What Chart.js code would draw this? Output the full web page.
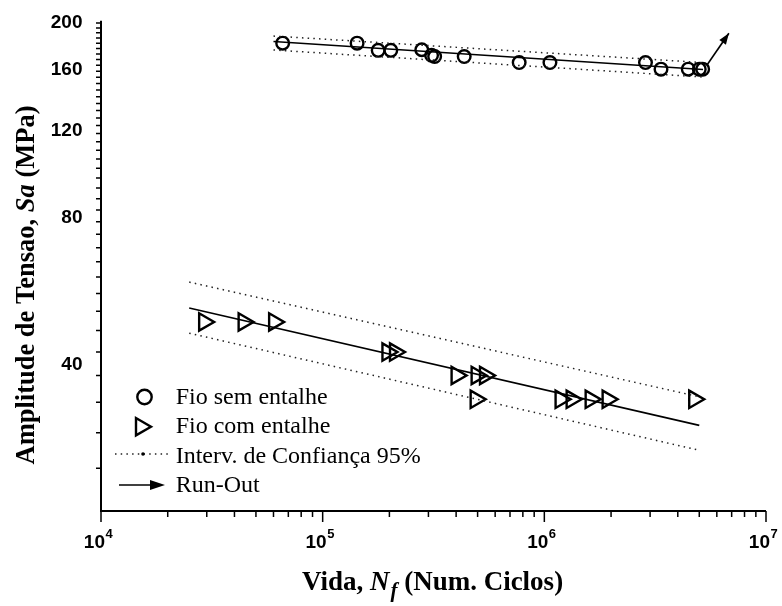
<!DOCTYPE html>
<html>
<head>
<meta charset="utf-8">
<title>Curva S-N</title>
<script src="https://cdn.jsdelivr.net/npm/chart.js@4.4.1/dist/chart.umd.min.js"></script>
<style>
  html, body { margin: 0; padding: 0; background: #fff; }
  #wrap { width: 782px; height: 606px; position: relative; }
</style>
</head>
<body>
<div id="wrap"><canvas id="sn"></canvas></div>
<script>
// fio sem entalhe (circulos)
var semN  = [66000, 143000, 178000, 203000, 280000, 310000, 320000, 435000, 770000, 1060000, 2860000, 3360000, 4460000, 5000000, 5180000];
var semSa = [180, 180, 174, 174, 174.5, 170, 169, 169, 164.3, 164.3, 164.3, 159.3, 159.3, 159.3, 159.3];

// fio com entalhe (triangulos)
var comN  = [29200, 44000, 60400, 196000, 212000, 402000, 495000, 540000, 490000, 1184000, 1328000, 1618000, 1930000, 4745000];
var comSa = [48.6, 48.6, 48.6, 42.2, 42.2, 37.8, 37.8, 37.8, 33.8, 33.8, 33.8, 33.8, 33.8, 33.8];

// retas ajustadas e intervalo de confianca 95%
var ajSemN   = [60000, 5200000];
var ajSemSa  = [181.4, 159];
var supSemSa = [186.1, 164.3];
var infSemSa = [174.3, 153.5];

var ajComN   = [25000, 5000000];
var ajComSa  = [51.9, 29.9];
var supComSa = [58.6, 34.2];
var infComSa = [46.1, 26.6];

// run-out
var runN  = [5400000, 6800000];
var runSa = [162, 188.5];

// eixos
var xMaior = [1e4, 1e5, 1e6, 1e7];
var xExpo  = ['4', '5', '6', '7'];
var yMaior = [40, 80, 120, 160, 200];
var yPasso = 40 / 9;

var legTextos = ['Fio sem entalhe', 'Fio com entalhe', 'Interv. de Confiança 95%', 'Run-Out'];

function pares(xs, ys) {
  return xs.map(function (x, i) { return { x: x, y: ys[i] }; });
}

function linha(xs, ys, pont) {
  return {
    data: pares(xs, ys),
    showLine: true,
    pointRadius: 0,
    borderColor: pont ? '#222' : '#000',
    borderWidth: pont ? 1.5 : 1.6,
    borderDash: pont ? [1.5, 4.2] : [],
    fill: false
  };
}

var SERIF = '"Liberation Serif", "Times New Roman", serif';
var SANS = '"Liberation Sans", Arial, sans-serif';

function seta(ctx, x, y, ang, comp, larg) {
  ctx.save();
  ctx.translate(x, y);
  ctx.rotate(ang);
  ctx.beginPath();
  ctx.moveTo(0, 0);
  ctx.lineTo(-comp, -larg);
  ctx.lineTo(-comp, larg);
  ctx.closePath();
  ctx.fill();
  ctx.restore();
}

function triangulo(ctx, x, y, r) {
  ctx.beginPath();
  ctx.moveTo(x + r, y);
  ctx.lineTo(x - r / 2, y + r * 0.866);
  ctx.lineTo(x - r / 2, y - r * 0.866);
  ctx.closePath();
  ctx.stroke();
}

// ponta da seta do run-out
var pontaSeta = {
  id: 'pontaSeta',
  afterDatasetsDraw: function (chart) {
    var ctx = chart.ctx;
    chart.data.datasets.forEach(function (ds, i) {
      if (!ds.seta) return;
      var pts = chart.getDatasetMeta(i).data;
      var p0 = pts[pts.length - 2], p1 = pts[pts.length - 1];
      ctx.save();
      ctx.fillStyle = '#000';
      seta(ctx, p1.x, p1.y, Math.atan2(p1.y - p0.y, p1.x - p0.x), 11, 4);
      ctx.restore();
    });
  }
};

// eixos, marcas, rotulos, titulos e legenda
var moldura = {
  id: 'moldura',
  afterDraw: function (chart) {
    var ctx = chart.ctx, a = chart.chartArea;
    var sx = chart.scales.x, sy = chart.scales.y;
    ctx.save();
    ctx.strokeStyle = '#000';
    ctx.fillStyle = '#000';

    ctx.lineWidth = 2;
    ctx.beginPath();
    ctx.moveTo(a.left, a.top);
    ctx.lineTo(a.left, a.bottom);
    ctx.lineTo(a.right, a.bottom);
    ctx.stroke();

    // marcas do eixo x
    ctx.lineWidth = 1.5;
    ctx.beginPath();
    xMaior.forEach(function (v, k) {
      var px = sx.getPixelForValue(v);
      ctx.moveTo(px, a.bottom);
      ctx.lineTo(px, a.bottom + 11);
      if (k < xMaior.length - 1) {
        for (var m = 2; m <= 9; m++) {
          var pm = sx.getPixelForValue(v * m);
          ctx.moveTo(pm, a.bottom);
          ctx.lineTo(pm, a.bottom + 6);
        }
      }
    });
    // marcas do eixo y
    for (var k = 1; k <= 40; k++) {
      var v = 20 + k * yPasso;
      if (v > 200.01) break;
      var py = sy.getPixelForValue(v);
      var maior = Math.abs(((v - 40) / 40) - Math.round((v - 40) / 40)) < 1e-6 && v >= 39.9;
      ctx.moveTo(a.left, py);
      ctx.lineTo(a.left - (maior ? 10 : 5), py);
    }
    ctx.stroke();

    // rotulos x: 10^n
    xMaior.forEach(function (v, k) {
      var px = sx.getPixelForValue(v);
      ctx.font = 'bold 19px ' + SANS;
      ctx.textAlign = 'right';
      ctx.textBaseline = 'alphabetic';
      ctx.fillText('10', px + 4, a.bottom + 37);
      ctx.font = 'bold 13px ' + SANS;
      ctx.textAlign = 'left';
      ctx.fillText(xExpo[k], px + 4.5, a.bottom + 27);
    });

    // rotulos y
    ctx.font = 'bold 19px ' + SANS;
    ctx.textAlign = 'right';
    yMaior.forEach(function (v) {
      ctx.fillText(String(v), 82.5, sy.getPixelForValue(v) + 7);
    });

    // titulo do eixo y
    var partesY = [
      ['bold 26.5px ' + SERIF, 'Amplitude de Tensao, '],
      ['italic bold 26.5px ' + SERIF, 'Sa'],
      ['bold 26.5px ' + SERIF, ' (MPa)']
    ];
    var totY = 0;
    partesY.forEach(function (p) { ctx.font = p[0]; totY += ctx.measureText(p[1]).width; });
    ctx.save();
    ctx.translate(34, 285);
    ctx.rotate(-Math.PI / 2);
    ctx.textAlign = 'left';
    var cx = -totY / 2;
    partesY.forEach(function (p) {
      ctx.font = p[0];
      ctx.fillText(p[1], cx, 0);
      cx += ctx.measureText(p[1]).width;
    });
    ctx.restore();

    // titulo do eixo x
    var partesX = [
      ['bold 27px ' + SERIF, 'Vida, ', 0],
      ['italic bold 27px ' + SERIF, 'N', 0],
      ['italic bold 21px ' + SERIF, 'f', 7],
      ['bold 27px ' + SERIF, ' (Num. Ciclos)', 0]
    ];
    var totX = 0;
    partesX.forEach(function (p) { ctx.font = p[0]; totX += ctx.measureText(p[1]).width; });
    ctx.textAlign = 'left';
    var tx = 432 - totX / 2;
    partesX.forEach(function (p) {
      ctx.font = p[0];
      ctx.fillText(p[1], tx, 590 + p[2]);
      tx += ctx.measureText(p[1]).width + (p[1] === 'N' ? 1 : 0);
    });

    // legenda
    ctx.lineWidth = 2.4;
    ctx.beginPath();
    ctx.arc(144.5, 397, 7.2, 0, Math.PI * 2);
    ctx.stroke();
    triangulo(ctx, 141, 426.7, 10);

    ctx.strokeStyle = '#222';
    ctx.lineWidth = 1.5;
    ctx.setLineDash([1.5, 4.2]);
    ctx.beginPath();
    ctx.moveTo(115, 454);
    ctx.lineTo(172, 454);
    ctx.stroke();
    ctx.setLineDash([]);
    ctx.beginPath();
    ctx.arc(143, 454, 1.8, 0, Math.PI * 2);
    ctx.fill();

    ctx.strokeStyle = '#000';
    ctx.lineWidth = 1.6;
    ctx.beginPath();
    ctx.moveTo(119, 485);
    ctx.lineTo(155, 485);
    ctx.stroke();
    seta(ctx, 165, 485, 0, 15, 5);

    ctx.font = '24px ' + SERIF;
    ctx.textAlign = 'left';
    var bases = [404, 433.3, 462.7, 491.7];
    legTextos.forEach(function (t, i) { ctx.fillText(t, 175.7, bases[i]); });

    ctx.restore();
  }
};

var conjuntos = [
  linha(ajSemN, supSemSa, true),
  linha(ajSemN, infSemSa, true),
  linha(ajComN, supComSa, true),
  linha(ajComN, infComSa, true),
  linha(ajSemN, ajSemSa, false),
  linha(ajComN, ajComSa, false),
  {
    label: 'Run-Out',
    data: pares(runN, runSa),
    showLine: true,
    pointRadius: 0,
    borderColor: '#000',
    borderWidth: 1.6,
    seta: true
  },
  {
    label: 'Fio sem entalhe',
    data: pares(semN, semSa),
    showLine: false,
    pointStyle: 'circle',
    pointRadius: 6.3,
    pointBorderWidth: 2.4,
    pointBorderColor: '#000',
    pointBackgroundColor: 'rgba(0,0,0,0)'
  },
  {
    label: 'Fio com entalhe',
    data: pares(comN, comSa),
    showLine: false,
    pointStyle: 'triangle',
    pointRotation: 90,
    pointRadius: 10,
    pointBorderWidth: 2.4,
    pointBorderColor: '#000',
    pointBackgroundColor: 'rgba(0,0,0,0)'
  }
];

new Chart(document.getElementById('sn').getContext('2d'), {
  type: 'scatter',
  data: { datasets: conjuntos },
  options: {
    responsive: true,
    maintainAspectRatio: false,
    animation: false,
    layout: { padding: { left: 101, top: 20.7, right: 16, bottom: 95 } },
    plugins: { legend: { display: false }, tooltip: { enabled: false } },
    scales: {
      x: { type: 'logarithmic', min: 1e4, max: 1e7, display: false },
      y: { type: 'logarithmic', min: 20, max: 200, display: false }
    }
  },
  plugins: [pontaSeta, moldura]
});
</script>
</body>
</html>
